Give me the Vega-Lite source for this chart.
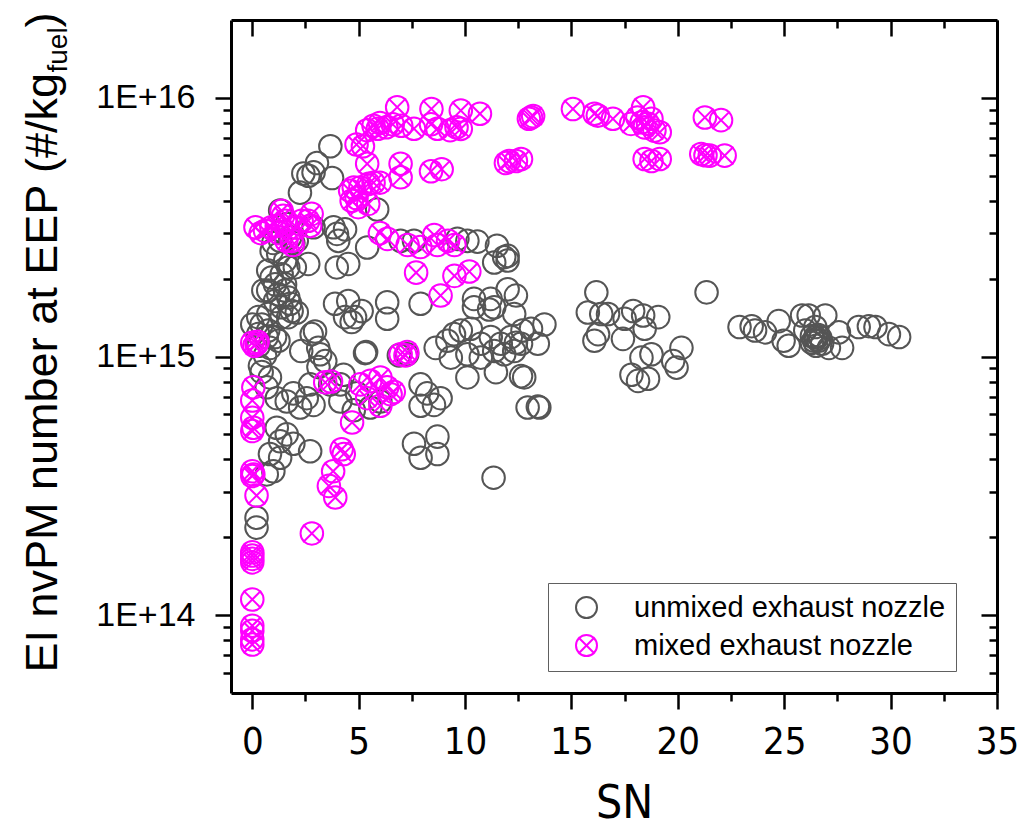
{
"$schema": "https://vega.github.io/schema/vega-lite/v6.json",
"width": 766, "height": 673,
"autosize": "none",
"padding": {"left": 231, "top": 20, "right": 33, "bottom": 137},
"background": "white",
"config": {"view": {"stroke": null}, "font": "Liberation Sans", "axis": {"grid": false, "tickColor": "black", "domainColor": "black", "labelColor": "black", "titleColor": "black", "titleFontWeight": "normal"}},
"datasets": {
"anchor": [{"SN": 0, "EI": 1e15}],
"pts": [
{"SN":3.67,"EI":6.5e15,"nozzle":"unmixed exhaust nozzle"},
{"SN":3.04,"EI":5.6e15,"nozzle":"unmixed exhaust nozzle"},
{"SN":2.4,"EI":5.1e15,"nozzle":"unmixed exhaust nozzle"},
{"SN":2.64,"EI":5.0e15,"nozzle":"unmixed exhaust nozzle"},
{"SN":2.88,"EI":5.15e15,"nozzle":"unmixed exhaust nozzle"},
{"SN":3.75,"EI":4.9e15,"nozzle":"unmixed exhaust nozzle"},
{"SN":2.24,"EI":4.3e15,"nozzle":"unmixed exhaust nozzle"},
{"SN":5.87,"EI":3.7e15,"nozzle":"unmixed exhaust nozzle"},
{"SN":1.31,"EI":3.67e15,"nozzle":"unmixed exhaust nozzle"},
{"SN":1.62,"EI":3.25e15,"nozzle":"unmixed exhaust nozzle"},
{"SN":1.78,"EI":2.89e15,"nozzle":"unmixed exhaust nozzle"},
{"SN":2.09,"EI":2.8e15,"nozzle":"unmixed exhaust nozzle"},
{"SN":2.88,"EI":3.16e15,"nozzle":"unmixed exhaust nozzle"},
{"SN":3.98,"EI":2.98e15,"nozzle":"unmixed exhaust nozzle"},
{"SN":3.82,"EI":3.16e15,"nozzle":"unmixed exhaust nozzle"},
{"SN":0.99,"EI":2.75e15,"nozzle":"unmixed exhaust nozzle"},
{"SN":1.31,"EI":2.8e15,"nozzle":"unmixed exhaust nozzle"},
{"SN":1.93,"EI":2.75e15,"nozzle":"unmixed exhaust nozzle"},
{"SN":4.36,"EI":3.1e15,"nozzle":"unmixed exhaust nozzle"},
{"SN":4.04,"EI":2.8e15,"nozzle":"unmixed exhaust nozzle"},
{"SN":3.97,"EI":2.21e15,"nozzle":"unmixed exhaust nozzle"},
{"SN":4.51,"EI":2.28e15,"nozzle":"unmixed exhaust nozzle"},
{"SN":2.63,"EI":2.28e15,"nozzle":"unmixed exhaust nozzle"},
{"SN":1.22,"EI":2.49e15,"nozzle":"unmixed exhaust nozzle"},
{"SN":1.54,"EI":2.34e15,"nozzle":"unmixed exhaust nozzle"},
{"SN":1.69,"EI":2.21e15,"nozzle":"unmixed exhaust nozzle"},
{"SN":2.0,"EI":2.21e15,"nozzle":"unmixed exhaust nozzle"},
{"SN":0.91,"EI":2.56e15,"nozzle":"unmixed exhaust nozzle"},
{"SN":6.97,"EI":2.8e15,"nozzle":"unmixed exhaust nozzle"},
{"SN":7.6,"EI":2.8e15,"nozzle":"unmixed exhaust nozzle"},
{"SN":9.64,"EI":2.85e15,"nozzle":"unmixed exhaust nozzle"},
{"SN":10.11,"EI":2.8e15,"nozzle":"unmixed exhaust nozzle"},
{"SN":10.58,"EI":2.78e15,"nozzle":"unmixed exhaust nozzle"},
{"SN":11.5,"EI":2.68e15,"nozzle":"unmixed exhaust nozzle"},
{"SN":12.0,"EI":2.45e15,"nozzle":"unmixed exhaust nozzle"},
{"SN":11.84,"EI":2.42e15,"nozzle":"unmixed exhaust nozzle"},
{"SN":12.0,"EI":2.35e15,"nozzle":"unmixed exhaust nozzle"},
{"SN":11.37,"EI":2.31e15,"nozzle":"unmixed exhaust nozzle"},
{"SN":5.4,"EI":2.64e15,"nozzle":"unmixed exhaust nozzle"},
{"SN":0.75,"EI":2.15e15,"nozzle":"unmixed exhaust nozzle"},
{"SN":0.91,"EI":2.02e15,"nozzle":"unmixed exhaust nozzle"},
{"SN":1.38,"EI":2.08e15,"nozzle":"unmixed exhaust nozzle"},
{"SN":1.07,"EI":1.9e15,"nozzle":"unmixed exhaust nozzle"},
{"SN":1.54,"EI":1.9e15,"nozzle":"unmixed exhaust nozzle"},
{"SN":0.75,"EI":1.8e15,"nozzle":"unmixed exhaust nozzle"},
{"SN":1.22,"EI":1.74e15,"nozzle":"unmixed exhaust nozzle"},
{"SN":1.54,"EI":1.8e15,"nozzle":"unmixed exhaust nozzle"},
{"SN":1.69,"EI":1.69e15,"nozzle":"unmixed exhaust nozzle"},
{"SN":1.07,"EI":1.64e15,"nozzle":"unmixed exhaust nozzle"},
{"SN":1.38,"EI":1.55e15,"nozzle":"unmixed exhaust nozzle"},
{"SN":1.85,"EI":1.5e15,"nozzle":"unmixed exhaust nozzle"},
{"SN":0.75,"EI":1.46e15,"nozzle":"unmixed exhaust nozzle"},
{"SN":1.38,"EI":1.42e15,"nozzle":"unmixed exhaust nozzle"},
{"SN":0.44,"EI":1.33e15,"nozzle":"unmixed exhaust nozzle"},
{"SN":0.75,"EI":1.26e15,"nozzle":"unmixed exhaust nozzle"},
{"SN":0.28,"EI":1.22e15,"nozzle":"unmixed exhaust nozzle"},
{"SN":1.07,"EI":1.19e15,"nozzle":"unmixed exhaust nozzle"},
{"SN":1.69,"EI":1.42e15,"nozzle":"unmixed exhaust nozzle"},
{"SN":2.09,"EI":1.48e15,"nozzle":"unmixed exhaust nozzle"},
{"SN":1.78,"EI":1.6e15,"nozzle":"unmixed exhaust nozzle"},
{"SN":0.68,"EI":1.19e15,"nozzle":"unmixed exhaust nozzle"},
{"SN":1.23,"EI":1.15e15,"nozzle":"unmixed exhaust nozzle"},
{"SN":0.83,"EI":1.08e15,"nozzle":"unmixed exhaust nozzle"},
{"SN":0.6,"EI":1.01e15,"nozzle":"unmixed exhaust nozzle"},
{"SN":0.36,"EI":9.2e14,"nozzle":"unmixed exhaust nozzle"},
{"SN":0.44,"EI":8.7e14,"nozzle":"unmixed exhaust nozzle"},
{"SN":0.83,"EI":8.3e14,"nozzle":"unmixed exhaust nozzle"},
{"SN":0.68,"EI":7.6e14,"nozzle":"unmixed exhaust nozzle"},
{"SN":0.0,"EI":1.33e15,"nozzle":"unmixed exhaust nozzle"},
{"SN":0.28,"EI":1.42e15,"nozzle":"unmixed exhaust nozzle"},
{"SN":0.52,"EI":1.8e15,"nozzle":"unmixed exhaust nozzle"},
{"SN":0.3,"EI":1.1e15,"nozzle":"unmixed exhaust nozzle"},
{"SN":2.79,"EI":1.22e15,"nozzle":"unmixed exhaust nozzle"},
{"SN":2.95,"EI":1.25e15,"nozzle":"unmixed exhaust nozzle"},
{"SN":3.1,"EI":1.08e15,"nozzle":"unmixed exhaust nozzle"},
{"SN":2.3,"EI":1.05e15,"nozzle":"unmixed exhaust nozzle"},
{"SN":3.19,"EI":1.02e15,"nozzle":"unmixed exhaust nozzle"},
{"SN":3.43,"EI":9.6e14,"nozzle":"unmixed exhaust nozzle"},
{"SN":3.11,"EI":9.1e14,"nozzle":"unmixed exhaust nozzle"},
{"SN":3.89,"EI":1.6e15,"nozzle":"unmixed exhaust nozzle"},
{"SN":4.51,"EI":1.64e15,"nozzle":"unmixed exhaust nozzle"},
{"SN":4.36,"EI":1.42e15,"nozzle":"unmixed exhaust nozzle"},
{"SN":4.83,"EI":1.42e15,"nozzle":"unmixed exhaust nozzle"},
{"SN":5.14,"EI":1.5e15,"nozzle":"unmixed exhaust nozzle"},
{"SN":4.67,"EI":1.36e15,"nozzle":"unmixed exhaust nozzle"},
{"SN":6.34,"EI":1.62e15,"nozzle":"unmixed exhaust nozzle"},
{"SN":6.34,"EI":1.4e15,"nozzle":"unmixed exhaust nozzle"},
{"SN":7.91,"EI":1.6e15,"nozzle":"unmixed exhaust nozzle"},
{"SN":5.3,"EI":1.03e15,"nozzle":"unmixed exhaust nozzle"},
{"SN":5.35,"EI":1.04e15,"nozzle":"unmixed exhaust nozzle"},
{"SN":7.28,"EI":1.02e15,"nozzle":"unmixed exhaust nozzle"},
{"SN":6.89,"EI":1.01e15,"nozzle":"unmixed exhaust nozzle"},
{"SN":8.62,"EI":1.08e15,"nozzle":"unmixed exhaust nozzle"},
{"SN":9.17,"EI":1.15e15,"nozzle":"unmixed exhaust nozzle"},
{"SN":9.48,"EI":1.22e15,"nozzle":"unmixed exhaust nozzle"},
{"SN":9.33,"EI":9.9e14,"nozzle":"unmixed exhaust nozzle"},
{"SN":4.29,"EI":8.5e14,"nozzle":"unmixed exhaust nozzle"},
{"SN":3.66,"EI":7.8e14,"nozzle":"unmixed exhaust nozzle"},
{"SN":4.14,"EI":7.8e14,"nozzle":"unmixed exhaust nozzle"},
{"SN":4.92,"EI":7.2e14,"nozzle":"unmixed exhaust nozzle"},
{"SN":4.14,"EI":6.7e14,"nozzle":"unmixed exhaust nozzle"},
{"SN":4.77,"EI":6.2e14,"nozzle":"unmixed exhaust nozzle"},
{"SN":5.55,"EI":6.35e14,"nozzle":"unmixed exhaust nozzle"},
{"SN":6.02,"EI":6.7e14,"nozzle":"unmixed exhaust nozzle"},
{"SN":7.91,"EI":7.8e14,"nozzle":"unmixed exhaust nozzle"},
{"SN":8.22,"EI":7.2e14,"nozzle":"unmixed exhaust nozzle"},
{"SN":8.85,"EI":6.9e14,"nozzle":"unmixed exhaust nozzle"},
{"SN":8.54,"EI":6.5e14,"nozzle":"unmixed exhaust nozzle"},
{"SN":7.91,"EI":6.45e14,"nozzle":"unmixed exhaust nozzle"},
{"SN":1.15,"EI":6.9e14,"nozzle":"unmixed exhaust nozzle"},
{"SN":1.62,"EI":6.7e14,"nozzle":"unmixed exhaust nozzle"},
{"SN":1.93,"EI":7.2e14,"nozzle":"unmixed exhaust nozzle"},
{"SN":2.56,"EI":6.9e14,"nozzle":"unmixed exhaust nozzle"},
{"SN":2.25,"EI":6.35e14,"nozzle":"unmixed exhaust nozzle"},
{"SN":2.88,"EI":6.5e14,"nozzle":"unmixed exhaust nozzle"},
{"SN":2.72,"EI":7.8e14,"nozzle":"unmixed exhaust nozzle"},
{"SN":1.15,"EI":5.3e14,"nozzle":"unmixed exhaust nozzle"},
{"SN":1.62,"EI":5.0e14,"nozzle":"unmixed exhaust nozzle"},
{"SN":1.93,"EI":4.6e14,"nozzle":"unmixed exhaust nozzle"},
{"SN":1.31,"EI":4.7e14,"nozzle":"unmixed exhaust nozzle"},
{"SN":0.83,"EI":4.2e14,"nozzle":"unmixed exhaust nozzle"},
{"SN":1.31,"EI":4.06e14,"nozzle":"unmixed exhaust nozzle"},
{"SN":0.99,"EI":3.6e14,"nozzle":"unmixed exhaust nozzle"},
{"SN":0.68,"EI":3.5e14,"nozzle":"unmixed exhaust nozzle"},
{"SN":2.72,"EI":4.3e14,"nozzle":"unmixed exhaust nozzle"},
{"SN":7.6,"EI":4.6e14,"nozzle":"unmixed exhaust nozzle"},
{"SN":7.91,"EI":4.06e14,"nozzle":"unmixed exhaust nozzle"},
{"SN":8.7,"EI":4.2e14,"nozzle":"unmixed exhaust nozzle"},
{"SN":8.7,"EI":4.9e14,"nozzle":"unmixed exhaust nozzle"},
{"SN":0.2,"EI":2.38e14,"nozzle":"unmixed exhaust nozzle"},
{"SN":0.2,"EI":2.18e14,"nozzle":"unmixed exhaust nozzle"},
{"SN":12.0,"EI":1.82e15,"nozzle":"unmixed exhaust nozzle"},
{"SN":12.39,"EI":1.72e15,"nozzle":"unmixed exhaust nozzle"},
{"SN":10.42,"EI":1.67e15,"nozzle":"unmixed exhaust nozzle"},
{"SN":11.2,"EI":1.67e15,"nozzle":"unmixed exhaust nozzle"},
{"SN":10.42,"EI":1.55e15,"nozzle":"unmixed exhaust nozzle"},
{"SN":11.13,"EI":1.52e15,"nozzle":"unmixed exhaust nozzle"},
{"SN":11.37,"EI":1.55e15,"nozzle":"unmixed exhaust nozzle"},
{"SN":12.31,"EI":1.46e15,"nozzle":"unmixed exhaust nozzle"},
{"SN":9.8,"EI":1.26e15,"nozzle":"unmixed exhaust nozzle"},
{"SN":10.27,"EI":1.28e15,"nozzle":"unmixed exhaust nozzle"},
{"SN":10.74,"EI":1.12e15,"nozzle":"unmixed exhaust nozzle"},
{"SN":11.21,"EI":1.19e15,"nozzle":"unmixed exhaust nozzle"},
{"SN":11.68,"EI":1.12e15,"nozzle":"unmixed exhaust nozzle"},
{"SN":12.15,"EI":1.19e15,"nozzle":"unmixed exhaust nozzle"},
{"SN":12.7,"EI":1.26e15,"nozzle":"unmixed exhaust nozzle"},
{"SN":13.1,"EI":1.28e15,"nozzle":"unmixed exhaust nozzle"},
{"SN":13.73,"EI":1.33e15,"nozzle":"unmixed exhaust nozzle"},
{"SN":13.42,"EI":1.12e15,"nozzle":"unmixed exhaust nozzle"},
{"SN":12.39,"EI":1.13e15,"nozzle":"unmixed exhaust nozzle"},
{"SN":10.11,"EI":1.02e15,"nozzle":"unmixed exhaust nozzle"},
{"SN":10.74,"EI":9.9e14,"nozzle":"unmixed exhaust nozzle"},
{"SN":11.37,"EI":1.05e15,"nozzle":"unmixed exhaust nozzle"},
{"SN":11.84,"EI":1.02e15,"nozzle":"unmixed exhaust nozzle"},
{"SN":12.31,"EI":1.05e15,"nozzle":"unmixed exhaust nozzle"},
{"SN":12.63,"EI":1.12e15,"nozzle":"unmixed exhaust nozzle"},
{"SN":10.11,"EI":8.3e14,"nozzle":"unmixed exhaust nozzle"},
{"SN":11.45,"EI":8.7e14,"nozzle":"unmixed exhaust nozzle"},
{"SN":12.63,"EI":8.4e14,"nozzle":"unmixed exhaust nozzle"},
{"SN":12.78,"EI":8.3e14,"nozzle":"unmixed exhaust nozzle"},
{"SN":12.94,"EI":6.35e14,"nozzle":"unmixed exhaust nozzle"},
{"SN":13.42,"EI":6.4e14,"nozzle":"unmixed exhaust nozzle"},
{"SN":13.49,"EI":6.35e14,"nozzle":"unmixed exhaust nozzle"},
{"SN":11.34,"EI":3.4e14,"nozzle":"unmixed exhaust nozzle"},
{"SN":16.17,"EI":1.77e15,"nozzle":"unmixed exhaust nozzle"},
{"SN":15.77,"EI":1.48e15,"nozzle":"unmixed exhaust nozzle"},
{"SN":16.4,"EI":1.46e15,"nozzle":"unmixed exhaust nozzle"},
{"SN":16.72,"EI":1.46e15,"nozzle":"unmixed exhaust nozzle"},
{"SN":16.08,"EI":1.15e15,"nozzle":"unmixed exhaust nozzle"},
{"SN":16.25,"EI":1.22e15,"nozzle":"unmixed exhaust nozzle"},
{"SN":17.9,"EI":1.5e15,"nozzle":"unmixed exhaust nozzle"},
{"SN":17.5,"EI":1.4e15,"nozzle":"unmixed exhaust nozzle"},
{"SN":18.37,"EI":1.44e15,"nozzle":"unmixed exhaust nozzle"},
{"SN":19.08,"EI":1.42e15,"nozzle":"unmixed exhaust nozzle"},
{"SN":17.42,"EI":1.17e15,"nozzle":"unmixed exhaust nozzle"},
{"SN":18.44,"EI":1.28e15,"nozzle":"unmixed exhaust nozzle"},
{"SN":17.82,"EI":8.5e14,"nozzle":"unmixed exhaust nozzle"},
{"SN":18.13,"EI":8.05e14,"nozzle":"unmixed exhaust nozzle"},
{"SN":18.6,"EI":8.2e14,"nozzle":"unmixed exhaust nozzle"},
{"SN":18.29,"EI":9.9e14,"nozzle":"unmixed exhaust nozzle"},
{"SN":18.76,"EI":1.02e15,"nozzle":"unmixed exhaust nozzle"},
{"SN":19.78,"EI":9.6e14,"nozzle":"unmixed exhaust nozzle"},
{"SN":19.94,"EI":9.06e14,"nozzle":"unmixed exhaust nozzle"},
{"SN":20.17,"EI":1.08e15,"nozzle":"unmixed exhaust nozzle"},
{"SN":21.35,"EI":1.77e15,"nozzle":"unmixed exhaust nozzle"},
{"SN":22.9,"EI":1.3e15,"nozzle":"unmixed exhaust nozzle"},
{"SN":23.47,"EI":1.31e15,"nozzle":"unmixed exhaust nozzle"},
{"SN":23.63,"EI":1.26e15,"nozzle":"unmixed exhaust nozzle"},
{"SN":24.1,"EI":1.24e15,"nozzle":"unmixed exhaust nozzle"},
{"SN":24.74,"EI":1.37e15,"nozzle":"unmixed exhaust nozzle"},
{"SN":24.97,"EI":1.15e15,"nozzle":"unmixed exhaust nozzle"},
{"SN":25.21,"EI":1.1e15,"nozzle":"unmixed exhaust nozzle"},
{"SN":25.84,"EI":1.44e15,"nozzle":"unmixed exhaust nozzle"},
{"SN":26.15,"EI":1.44e15,"nozzle":"unmixed exhaust nozzle"},
{"SN":26.93,"EI":1.44e15,"nozzle":"unmixed exhaust nozzle"},
{"SN":25.99,"EI":1.26e15,"nozzle":"unmixed exhaust nozzle"},
{"SN":26.46,"EI":1.19e15,"nozzle":"unmixed exhaust nozzle"},
{"SN":26.62,"EI":1.15e15,"nozzle":"unmixed exhaust nozzle"},
{"SN":26.78,"EI":1.12e15,"nozzle":"unmixed exhaust nozzle"},
{"SN":27.1,"EI":1.08e15,"nozzle":"unmixed exhaust nozzle"},
{"SN":27.57,"EI":1.24e15,"nozzle":"unmixed exhaust nozzle"},
{"SN":27.72,"EI":1.08e15,"nozzle":"unmixed exhaust nozzle"},
{"SN":28.5,"EI":1.3e15,"nozzle":"unmixed exhaust nozzle"},
{"SN":28.98,"EI":1.31e15,"nozzle":"unmixed exhaust nozzle"},
{"SN":29.29,"EI":1.3e15,"nozzle":"unmixed exhaust nozzle"},
{"SN":29.92,"EI":1.22e15,"nozzle":"unmixed exhaust nozzle"},
{"SN":30.4,"EI":1.19e15,"nozzle":"unmixed exhaust nozzle"},
{"SN":26.46,"EI":1.3e15,"nozzle":"unmixed exhaust nozzle"},
{"SN":26.3,"EI":1.2e15,"nozzle":"unmixed exhaust nozzle"},
{"SN":26.4,"EI":1.15e15,"nozzle":"unmixed exhaust nozzle"},
{"SN":26.5,"EI":1.17e15,"nozzle":"unmixed exhaust nozzle"},
{"SN":26.6,"EI":1.21e15,"nozzle":"unmixed exhaust nozzle"},
{"SN":26.3,"EI":1.13e15,"nozzle":"unmixed exhaust nozzle"},
{"SN":26.7,"EI":1.18e15,"nozzle":"unmixed exhaust nozzle"},
{"SN":26.5,"EI":1.1e15,"nozzle":"unmixed exhaust nozzle"},
{"SN":6.81,"EI":9.2e15,"nozzle":"mixed exhaust nozzle"},
{"SN":8.42,"EI":9.06e15,"nozzle":"mixed exhaust nozzle"},
{"SN":9.8,"EI":8.93e15,"nozzle":"mixed exhaust nozzle"},
{"SN":10.7,"EI":8.68e15,"nozzle":"mixed exhaust nozzle"},
{"SN":9.8,"EI":7.59e15,"nozzle":"mixed exhaust nozzle"},
{"SN":13.0,"EI":8.3e15,"nozzle":"mixed exhaust nozzle"},
{"SN":13.1,"EI":8.4e15,"nozzle":"mixed exhaust nozzle"},
{"SN":13.2,"EI":8.5e15,"nozzle":"mixed exhaust nozzle"},
{"SN":15.07,"EI":9.06e15,"nozzle":"mixed exhaust nozzle"},
{"SN":16.08,"EI":8.68e15,"nozzle":"mixed exhaust nozzle"},
{"SN":16.24,"EI":8.54e15,"nozzle":"mixed exhaust nozzle"},
{"SN":16.95,"EI":8.3e15,"nozzle":"mixed exhaust nozzle"},
{"SN":17.8,"EI":7.93e15,"nozzle":"mixed exhaust nozzle"},
{"SN":18.37,"EI":9.2e15,"nozzle":"mixed exhaust nozzle"},
{"SN":18.3,"EI":8.05e15,"nozzle":"mixed exhaust nozzle"},
{"SN":18.6,"EI":7.94e15,"nozzle":"mixed exhaust nozzle"},
{"SN":18.9,"EI":7.47e15,"nozzle":"mixed exhaust nozzle"},
{"SN":19.15,"EI":7.36e15,"nozzle":"mixed exhaust nozzle"},
{"SN":18.44,"EI":7.69e15,"nozzle":"mixed exhaust nozzle"},
{"SN":18.1,"EI":8.4e15,"nozzle":"mixed exhaust nozzle"},
{"SN":18.76,"EI":8.3e15,"nozzle":"mixed exhaust nozzle"},
{"SN":21.27,"EI":8.4e15,"nozzle":"mixed exhaust nozzle"},
{"SN":22.03,"EI":8.2e15,"nozzle":"mixed exhaust nozzle"},
{"SN":5.4,"EI":7.5e15,"nozzle":"mixed exhaust nozzle"},
{"SN":5.7,"EI":7.8e15,"nozzle":"mixed exhaust nozzle"},
{"SN":6.0,"EI":8.0e15,"nozzle":"mixed exhaust nozzle"},
{"SN":6.3,"EI":7.7e15,"nozzle":"mixed exhaust nozzle"},
{"SN":6.6,"EI":7.9e15,"nozzle":"mixed exhaust nozzle"},
{"SN":7.0,"EI":7.8e15,"nozzle":"mixed exhaust nozzle"},
{"SN":7.6,"EI":7.6e15,"nozzle":"mixed exhaust nozzle"},
{"SN":8.4,"EI":7.9e15,"nozzle":"mixed exhaust nozzle"},
{"SN":8.7,"EI":7.6e15,"nozzle":"mixed exhaust nozzle"},
{"SN":9.3,"EI":7.5e15,"nozzle":"mixed exhaust nozzle"},
{"SN":9.6,"EI":7.7e15,"nozzle":"mixed exhaust nozzle"},
{"SN":5.9,"EI":7.6e15,"nozzle":"mixed exhaust nozzle"},
{"SN":11.92,"EI":5.6e15,"nozzle":"mixed exhaust nozzle"},
{"SN":12.07,"EI":5.7e15,"nozzle":"mixed exhaust nozzle"},
{"SN":12.39,"EI":5.7e15,"nozzle":"mixed exhaust nozzle"},
{"SN":12.63,"EI":5.8e15,"nozzle":"mixed exhaust nozzle"},
{"SN":18.44,"EI":5.8e15,"nozzle":"mixed exhaust nozzle"},
{"SN":18.76,"EI":5.7e15,"nozzle":"mixed exhaust nozzle"},
{"SN":19.15,"EI":5.8e15,"nozzle":"mixed exhaust nozzle"},
{"SN":21.1,"EI":6.07e15,"nozzle":"mixed exhaust nozzle"},
{"SN":21.3,"EI":6.0e15,"nozzle":"mixed exhaust nozzle"},
{"SN":21.5,"EI":5.98e15,"nozzle":"mixed exhaust nozzle"},
{"SN":22.2,"EI":5.98e15,"nozzle":"mixed exhaust nozzle"},
{"SN":4.9,"EI":6.6e15,"nozzle":"mixed exhaust nozzle"},
{"SN":5.2,"EI":6.5e15,"nozzle":"mixed exhaust nozzle"},
{"SN":5.4,"EI":5.56e15,"nozzle":"mixed exhaust nozzle"},
{"SN":6.97,"EI":5.56e15,"nozzle":"mixed exhaust nozzle"},
{"SN":6.97,"EI":4.93e15,"nozzle":"mixed exhaust nozzle"},
{"SN":8.4,"EI":5.2e15,"nozzle":"mixed exhaust nozzle"},
{"SN":8.9,"EI":5.3e15,"nozzle":"mixed exhaust nozzle"},
{"SN":4.6,"EI":4.37e15,"nozzle":"mixed exhaust nozzle"},
{"SN":4.77,"EI":4.5e15,"nozzle":"mixed exhaust nozzle"},
{"SN":5.08,"EI":4.5e15,"nozzle":"mixed exhaust nozzle"},
{"SN":5.47,"EI":4.65e15,"nozzle":"mixed exhaust nozzle"},
{"SN":5.7,"EI":4.7e15,"nozzle":"mixed exhaust nozzle"},
{"SN":6.0,"EI":4.7e15,"nozzle":"mixed exhaust nozzle"},
{"SN":4.67,"EI":4.0e15,"nozzle":"mixed exhaust nozzle"},
{"SN":4.98,"EI":3.78e15,"nozzle":"mixed exhaust nozzle"},
{"SN":5.45,"EI":3.89e15,"nozzle":"mixed exhaust nozzle"},
{"SN":4.9,"EI":4.1e15,"nozzle":"mixed exhaust nozzle"},
{"SN":6.0,"EI":3.0e15,"nozzle":"mixed exhaust nozzle"},
{"SN":6.35,"EI":2.85e15,"nozzle":"mixed exhaust nozzle"},
{"SN":7.3,"EI":2.7e15,"nozzle":"mixed exhaust nozzle"},
{"SN":7.9,"EI":2.65e15,"nozzle":"mixed exhaust nozzle"},
{"SN":8.55,"EI":2.95e15,"nozzle":"mixed exhaust nozzle"},
{"SN":8.7,"EI":2.7e15,"nozzle":"mixed exhaust nozzle"},
{"SN":9.2,"EI":2.8e15,"nozzle":"mixed exhaust nozzle"},
{"SN":9.5,"EI":2.7e15,"nozzle":"mixed exhaust nozzle"},
{"SN":7.7,"EI":2.11e15,"nozzle":"mixed exhaust nozzle"},
{"SN":8.85,"EI":1.72e15,"nozzle":"mixed exhaust nozzle"},
{"SN":9.5,"EI":2.05e15,"nozzle":"mixed exhaust nozzle"},
{"SN":10.2,"EI":2.13e15,"nozzle":"mixed exhaust nozzle"},
{"SN":0.15,"EI":3.16e15,"nozzle":"mixed exhaust nozzle"},
{"SN":0.4,"EI":3.0e15,"nozzle":"mixed exhaust nozzle"},
{"SN":0.6,"EI":3.06e15,"nozzle":"mixed exhaust nozzle"},
{"SN":0.9,"EI":3.16e15,"nozzle":"mixed exhaust nozzle"},
{"SN":1.15,"EI":3.2e15,"nozzle":"mixed exhaust nozzle"},
{"SN":1.38,"EI":3.66e15,"nozzle":"mixed exhaust nozzle"},
{"SN":1.45,"EI":3.5e15,"nozzle":"mixed exhaust nozzle"},
{"SN":1.54,"EI":3.35e15,"nozzle":"mixed exhaust nozzle"},
{"SN":1.85,"EI":2.8e15,"nozzle":"mixed exhaust nozzle"},
{"SN":1.6,"EI":2.8e15,"nozzle":"mixed exhaust nozzle"},
{"SN":1.9,"EI":2.7e15,"nozzle":"mixed exhaust nozzle"},
{"SN":2.09,"EI":3.15e15,"nozzle":"mixed exhaust nozzle"},
{"SN":2.32,"EI":3.35e15,"nozzle":"mixed exhaust nozzle"},
{"SN":2.63,"EI":3.35e15,"nozzle":"mixed exhaust nozzle"},
{"SN":2.79,"EI":3.56e15,"nozzle":"mixed exhaust nozzle"},
{"SN":2.72,"EI":3.2e15,"nozzle":"mixed exhaust nozzle"},
{"SN":1.25,"EI":3.0e15,"nozzle":"mixed exhaust nozzle"},
{"SN":0.0,"EI":1.13e15,"nozzle":"mixed exhaust nozzle"},
{"SN":0.1,"EI":1.1e15,"nozzle":"mixed exhaust nozzle"},
{"SN":0.2,"EI":1.12e15,"nozzle":"mixed exhaust nozzle"},
{"SN":0.25,"EI":1.14e15,"nozzle":"mixed exhaust nozzle"},
{"SN":0.05,"EI":7.6e14,"nozzle":"mixed exhaust nozzle"},
{"SN":0.0,"EI":6.76e14,"nozzle":"mixed exhaust nozzle"},
{"SN":0.0,"EI":5.8e14,"nozzle":"mixed exhaust nozzle"},
{"SN":0.0,"EI":5.15e14,"nozzle":"mixed exhaust nozzle"},
{"SN":0.05,"EI":5.3e14,"nozzle":"mixed exhaust nozzle"},
{"SN":0.0,"EI":3.6e14,"nozzle":"mixed exhaust nozzle"},
{"SN":0.0,"EI":3.45e14,"nozzle":"mixed exhaust nozzle"},
{"SN":0.05,"EI":3.5e14,"nozzle":"mixed exhaust nozzle"},
{"SN":0.2,"EI":2.9e14,"nozzle":"mixed exhaust nozzle"},
{"SN":0.0,"EI":1.75e14,"nozzle":"mixed exhaust nozzle"},
{"SN":0.0,"EI":1.65e14,"nozzle":"mixed exhaust nozzle"},
{"SN":0.0,"EI":1.6e14,"nozzle":"mixed exhaust nozzle"},
{"SN":0.0,"EI":1.7e14,"nozzle":"mixed exhaust nozzle"},
{"SN":0.0,"EI":1.15e14,"nozzle":"mixed exhaust nozzle"},
{"SN":0.0,"EI":9.1e13,"nozzle":"mixed exhaust nozzle"},
{"SN":0.0,"EI":8.7e13,"nozzle":"mixed exhaust nozzle"},
{"SN":0.0,"EI":8.06e13,"nozzle":"mixed exhaust nozzle"},
{"SN":0.0,"EI":7.7e13,"nozzle":"mixed exhaust nozzle"},
{"SN":7.28,"EI":1.04e15,"nozzle":"mixed exhaust nozzle"},
{"SN":7.2,"EI":1.01e15,"nozzle":"mixed exhaust nozzle"},
{"SN":6.97,"EI":1.02e15,"nozzle":"mixed exhaust nozzle"},
{"SN":3.43,"EI":7.94e14,"nozzle":"mixed exhaust nozzle"},
{"SN":3.7,"EI":8.0e14,"nozzle":"mixed exhaust nozzle"},
{"SN":5.08,"EI":7.8e14,"nozzle":"mixed exhaust nozzle"},
{"SN":5.55,"EI":8.05e14,"nozzle":"mixed exhaust nozzle"},
{"SN":6.02,"EI":8.3e14,"nozzle":"mixed exhaust nozzle"},
{"SN":6.34,"EI":7.6e14,"nozzle":"mixed exhaust nozzle"},
{"SN":6.65,"EI":7.3e14,"nozzle":"mixed exhaust nozzle"},
{"SN":5.4,"EI":6.9e14,"nozzle":"mixed exhaust nozzle"},
{"SN":6.02,"EI":6.45e14,"nozzle":"mixed exhaust nozzle"},
{"SN":6.5,"EI":7.15e14,"nozzle":"mixed exhaust nozzle"},
{"SN":4.69,"EI":5.56e14,"nozzle":"mixed exhaust nozzle"},
{"SN":4.2,"EI":4.38e14,"nozzle":"mixed exhaust nozzle"},
{"SN":4.3,"EI":4.2e14,"nozzle":"mixed exhaust nozzle"},
{"SN":3.8,"EI":3.6e14,"nozzle":"mixed exhaust nozzle"},
{"SN":3.6,"EI":3.16e14,"nozzle":"mixed exhaust nozzle"},
{"SN":3.9,"EI":2.85e14,"nozzle":"mixed exhaust nozzle"},
{"SN":2.8,"EI":2.07e14,"nozzle":"mixed exhaust nozzle"}
]
},
"resolve": {"axis": {"x": "independent", "y": "independent"}},
"layer": [
{
"data": {"name": "pts"},
"mark": {"type": "point", "filled": false, "strokeWidth": 2, "size": 510, "opacity": 1},
"encoding": {
"x": {"field": "SN", "type": "quantitative",
 "scale": {"domain": [-1, 35], "nice": false, "zero": false},
 "axis": {"orient": "bottom", "values": [0, 5, 10, 15, 20, 25, 30, 35], "tickSize": 16, "tickWidth": 2.5, "domainWidth": 3,
  "labelFont": "Liberation Sans Narrow, DejaVu Sans Condensed, Liberation Sans", "labelFontSize": 38, "labelPadding": 14, "labelFlush": false, "labelOverlap": false, "labelBound": false,
  "title": "SN", "titleFont": "Liberation Sans Narrow, DejaVu Sans Condensed, Liberation Sans", "titleFontSize": 46, "titleX": 393, "titleY": 124, "titleBaseline": "alphabetic"}},
"y": {"field": "EI", "type": "quantitative",
 "scale": {"type": "log", "domain": [5e13, 2e16], "nice": false},
 "axis": {"orient": "left", "values": [1e14, 1e15, 1e16], "labelExpr": "'1E+' + round(log(datum.value)/LN10)", "tickSize": 16, "tickWidth": 2.5, "domainWidth": 3,
  "labelFont": "Liberation Sans", "labelFontSize": 34, "labelPadding": 20, "labelOverlap": false,
  "title": "EI nvPM number at EEP (#/kg", "titleFont": "Liberation Sans", "titleFontSize": 45, "titleAngle": 270, "titleX": -175, "titleY": 652, "titleAlign": "left", "titleBaseline": "alphabetic"}},
"color": {"field": "nozzle", "type": "nominal",
 "scale": {"domain": ["unmixed exhaust nozzle", "mixed exhaust nozzle"], "range": ["#555555", "#ff00ff"]},
 "legend": {"title": null, "orient": "none", "legendX": 317, "legendY": 563, "direction": "vertical", "strokeColor": "#606060", "padding": 10, "symbolOffset": 14, "labelOffset": 33, "rowPadding": 8, "symbolSize": 441, "symbolStrokeWidth": 2, "labelFont": "Liberation Sans", "labelFontSize": 29, "labelColor": "black", "labelLimit": 0}},
"shape": {"field": "nozzle", "type": "nominal",
 "scale": {"domain": ["unmixed exhaust nozzle", "mixed exhaust nozzle"], "range": ["M1,0A1,1,0,1,1,-1,0A1,1,0,1,1,1,0Z", "M1,0A1,1,0,1,1,-1,0A1,1,0,1,1,1,0ZM-0.78,-0.78L0.78,0.78M-0.78,0.78L0.78,-0.78"]},
 "legend": {"title": null, "orient": "none", "legendX": 317, "legendY": 563, "direction": "vertical", "strokeColor": "#606060", "padding": 10, "symbolOffset": 14, "labelOffset": 33, "rowPadding": 8, "symbolSize": 441, "symbolStrokeWidth": 2, "labelFont": "Liberation Sans", "labelFontSize": 29, "labelColor": "black", "labelLimit": 0}}
}
},
{
"data": {"name": "anchor"},
"mark": {"type": "point", "opacity": 0},
"encoding": {
"x": {"field": "SN", "type": "quantitative", "scale": {"domain": [-1, 35], "nice": false, "zero": false},
 "axis": {"orient": "bottom", "values": [2.5, 7.5, 12.5, 17.5, 22.5, 27.5, 32.5], "tickSize": 8, "tickWidth": 2.5, "labels": false, "domain": false, "title": null}},
"y": {"field": "EI", "type": "quantitative", "scale": {"type": "log", "domain": [5e13, 2e16], "nice": false},
 "axis": {"orient": "left", "values": [6e13, 7e13, 8e13, 9e13, 2e14, 3e14, 4e14, 5e14, 6e14, 7e14, 8e14, 9e14, 2e15, 3e15, 4e15, 5e15, 6e15, 7e15, 8e15, 9e15], "tickSize": 8, "tickWidth": 2.5, "labels": false, "domain": false,
  "title": "fuel", "titleFont": "Liberation Sans", "titleFontSize": 28, "titleAngle": 270, "titleX": -165, "titleY": 52, "titleAlign": "left", "titleBaseline": "alphabetic"}}
}
},
{
"data": {"name": "anchor"},
"mark": {"type": "point", "opacity": 0},
"encoding": {
"x": {"field": "SN", "type": "quantitative", "scale": {"domain": [-1, 35], "nice": false, "zero": false},
 "axis": {"orient": "top", "values": [0, 5, 10, 15, 20, 25, 30, 35], "tickSize": -16, "tickWidth": 2.5, "domainWidth": 3, "labels": false, "title": null}},
"y": {"field": "EI", "type": "quantitative", "scale": {"type": "log", "domain": [5e13, 2e16], "nice": false},
 "axis": {"orient": "right", "values": [1e14, 1e15, 1e16], "tickSize": -16, "tickWidth": 2.5, "domainWidth": 3, "labels": false, "title": null}}
}
},
{
"data": {"name": "anchor"},
"mark": {"type": "point", "opacity": 0},
"encoding": {
"x": {"field": "SN", "type": "quantitative", "scale": {"domain": [-1, 35], "nice": false, "zero": false},
 "axis": {"orient": "top", "values": [2.5, 7.5, 12.5, 17.5, 22.5, 27.5, 32.5], "tickSize": -8, "tickWidth": 2.5, "domain": false, "labels": false, "title": null}},
"y": {"field": "EI", "type": "quantitative", "scale": {"type": "log", "domain": [5e13, 2e16], "nice": false},
 "axis": {"orient": "right", "values": [6e13, 7e13, 8e13, 9e13, 2e14, 3e14, 4e14, 5e14, 6e14, 7e14, 8e14, 9e14, 2e15, 3e15, 4e15, 5e15, 6e15, 7e15, 8e15, 9e15], "tickSize": -8, "tickWidth": 2.5, "domain": false, "labels": false, "title": null}}
}
},
{
"data": {"name": "anchor"},
"mark": {"type": "point", "opacity": 0},
"encoding": {
"x": {"field": "SN", "type": "quantitative", "scale": {"domain": [-1, 35], "nice": false, "zero": false}, "axis": null},
"y": {"field": "EI", "type": "quantitative", "scale": {"type": "log", "domain": [5e13, 2e16], "nice": false},
 "axis": {"orient": "left", "values": [], "ticks": false, "labels": false, "domain": false,
  "title": ")", "titleFont": "Liberation Sans", "titleFontSize": 45, "titleAngle": 270, "titleX": -175, "titleY": 7, "titleAlign": "left", "titleBaseline": "alphabetic"}}
}
}
]
}
